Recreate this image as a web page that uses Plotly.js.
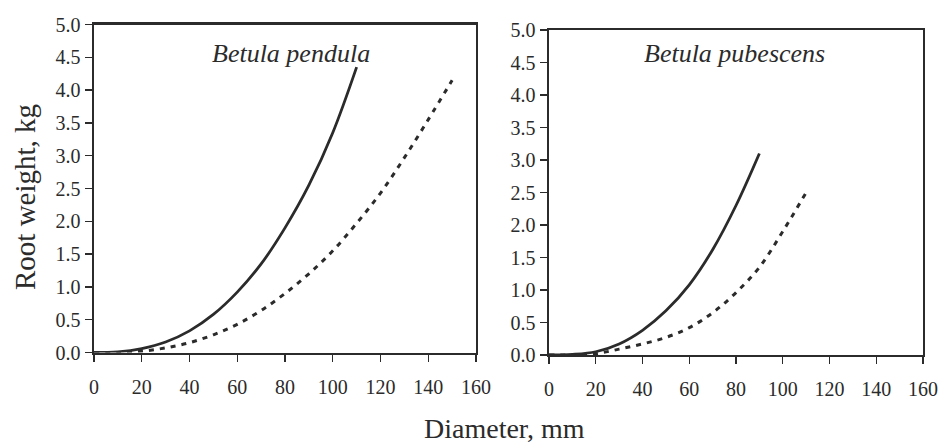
<!DOCTYPE html>
<html>
<head>
<meta charset="utf-8">
<script src="https://cdn.plot.ly/plotly-3.0.1.min.js"></script>
<style>html,body{margin:0;padding:0;background:#fff;}#chart{width:942px;height:445px;}</style>
</head>
<body>
<div id="chart"></div>
<script>
// Betula pendula
const pendulaSolidX = [0, 10, 20, 30, 40, 50, 60, 70, 80, 90, 100, 110];
const pendulaSolidY = [0, 0.01, 0.06, 0.16, 0.33, 0.58, 0.92, 1.35, 1.9, 2.55, 3.35, 4.35];
const pendulaDashX = [0, 10, 20, 30, 40, 50, 60, 70, 80, 90, 100, 110, 120, 130, 140, 150];
const pendulaDashY = [0, 0.0, 0.02, 0.07, 0.15, 0.27, 0.43, 0.64, 0.9, 1.2, 1.55, 1.97, 2.43, 2.97, 3.55, 4.15];
// Betula pubescens
const pubescensSolidX = [0, 10, 20, 30, 40, 50, 60, 70, 80, 90];
const pubescensSolidY = [0, 0.01, 0.05, 0.17, 0.38, 0.68, 1.08, 1.62, 2.3, 3.1];
const pubescensDashX = [0, 10, 20, 30, 40, 50, 60, 70, 80, 90, 100, 110];
const pubescensDashY = [0, 0, 0.02, 0.09, 0.17, 0.27, 0.42, 0.65, 0.96, 1.35, 1.9, 2.5];

const xTicks = [0, 20, 40, 60, 80, 100, 120, 140, 160];
const yTicks = [0, 0.5, 1, 1.5, 2, 2.5, 3, 3.5, 4, 4.5, 5];
const panelTitles = ['Betula pendula', 'Betula pubescens'];
const xTitle = 'Diameter, mm';
const yTitle = 'Root weight, kg';

const ink = '#2b2b2b';
const serif = 'Liberation Serif';

const traces = [
  {x: pendulaSolidX, y: pendulaSolidY, mode: 'lines', line: {color: ink, width: 2.8, shape: 'spline'}, xaxis: 'x', yaxis: 'y'},
  {x: pendulaDashX, y: pendulaDashY, mode: 'lines', line: {color: ink, width: 3, dash: '5px,6px', shape: 'spline'}, xaxis: 'x', yaxis: 'y'},
  {x: pubescensSolidX, y: pubescensSolidY, mode: 'lines', line: {color: ink, width: 2.8, shape: 'spline'}, xaxis: 'x2', yaxis: 'y2'},
  {x: pubescensDashX, y: pubescensDashY, mode: 'lines', line: {color: ink, width: 3, dash: '5px,6px', shape: 'spline'}, xaxis: 'x2', yaxis: 'y2'}
];

const W = 942, H = 445;
function xax(l, r, anchor) {
  return {domain: [l / W, r / W], anchor: anchor, range: [0, 160], tickvals: xTicks.slice(),
    ticks: 'outside', ticklen: 7, tickwidth: 1.3, tickcolor: ink, ticklabelstandoff: 8,
    showline: true, mirror: true, linewidth: 2.4, linecolor: ink,
    showgrid: false, zeroline: false,
    tickfont: {family: serif, size: 20, color: ink}};
}
function yax(b, t, anchor) {
  return {domain: [(H - b) / H, (H - t) / H], anchor: anchor, range: [0, 5], tickvals: yTicks.slice(),
    tickformat: '.1f', ticks: 'outside', ticklen: 7, tickwidth: 1.3, tickcolor: ink,
    showline: true, mirror: true, linewidth: 2.4, linecolor: ink,
    showgrid: false, zeroline: false,
    tickfont: {family: serif, size: 20, color: ink}};
}

const layout = {
  width: W, height: H,
  margin: {l: 0, r: 0, t: 0, b: 0},
  paper_bgcolor: '#ffffff', plot_bgcolor: '#ffffff',
  showlegend: false,
  xaxis: xax(94, 476, 'y'),
  yaxis: yax(352.5, 24.5, 'x'),
  xaxis2: xax(549, 923, 'y2'),
  yaxis2: yax(355, 30, 'x2'),
  annotations: [
    {text: panelTitles[0], xref: 'paper', yref: 'paper', x: 291 / W, y: (H - 53) / H,
     showarrow: false, xanchor: 'center', yanchor: 'middle',
     font: {family: serif, size: 26, color: ink, style: 'italic'}},
    {text: panelTitles[1], xref: 'paper', yref: 'paper', x: 734 / W, y: (H - 54) / H,
     showarrow: false, xanchor: 'center', yanchor: 'middle',
     font: {family: serif, size: 26, color: ink, style: 'italic'}},
    {text: xTitle, xref: 'paper', yref: 'paper', x: 504 / W, y: (H - 428) / H,
     showarrow: false, xanchor: 'center', yanchor: 'middle',
     font: {family: serif, size: 28, color: ink}},
    {text: yTitle, xref: 'paper', yref: 'paper', x: 25 / W, y: (H - 197) / H,
     showarrow: false, xanchor: 'center', yanchor: 'middle', textangle: -90,
     font: {family: serif, size: 29, color: ink}}
  ]
};

Plotly.newPlot('chart', traces, layout, {displayModeBar: false, staticPlot: true});
</script>
</body>
</html>
